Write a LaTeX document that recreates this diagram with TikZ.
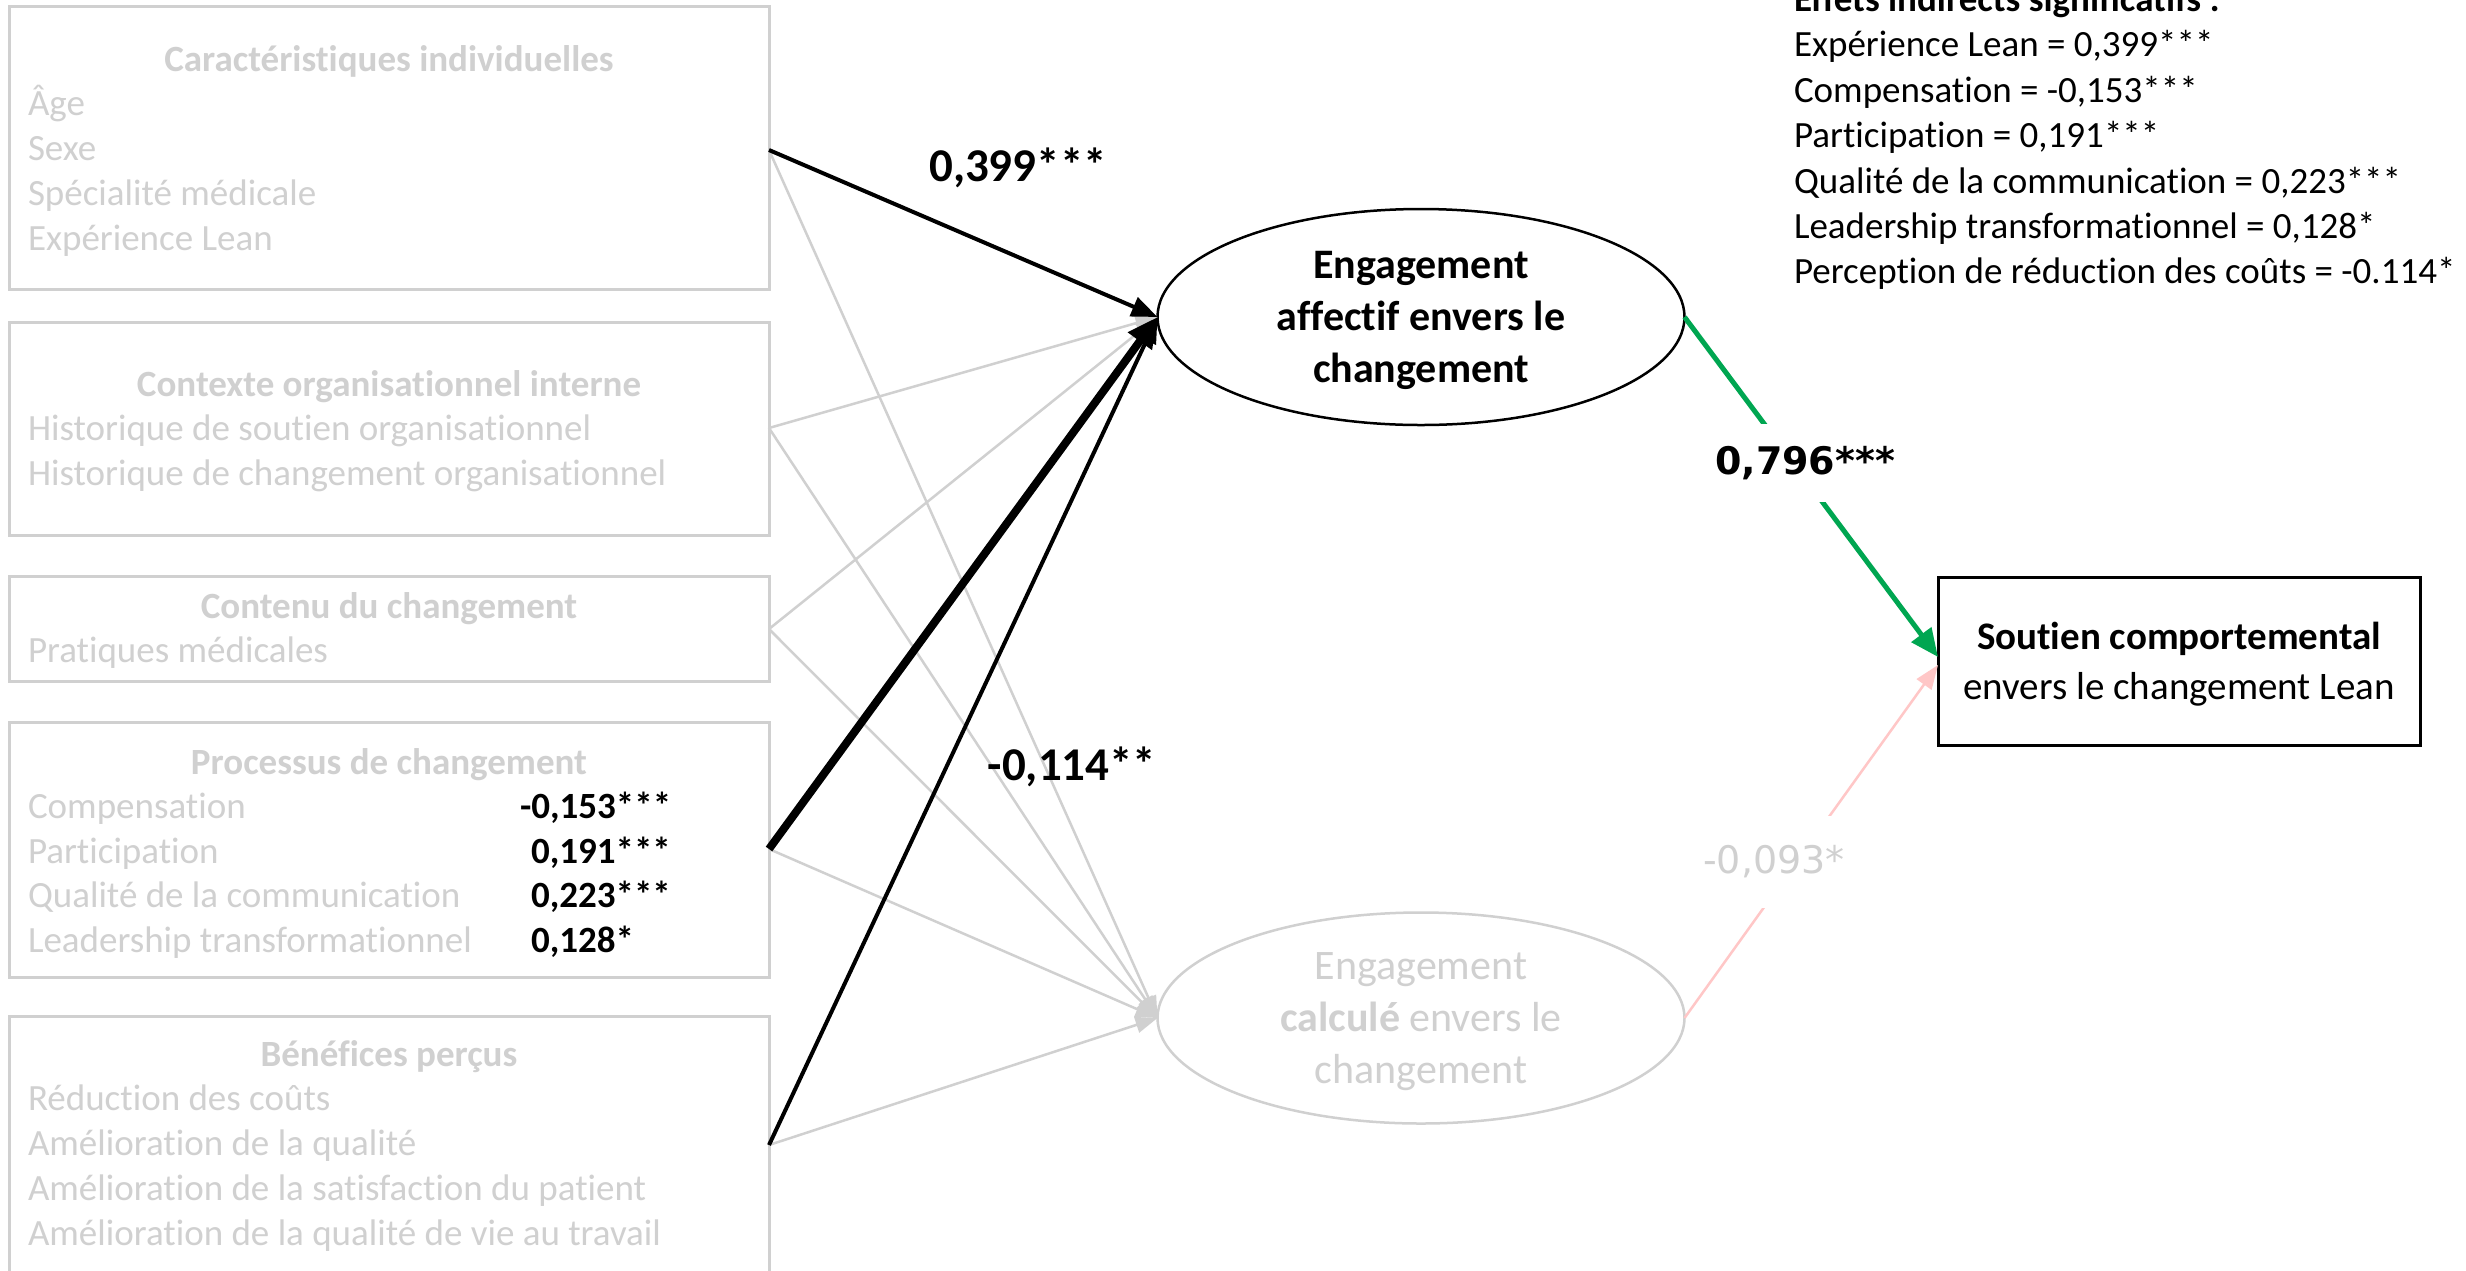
\documentclass[tikz,border=0pt]{standalone}
\usepackage{fontspec}
\setmainfont{Carlito}[Ligatures=NoCommon]
\newfontfamily\verdfont{DejaVu Sans}
\usetikzlibrary{arrows.meta,shapes.geometric}
\definecolor{lgrey}{RGB}{208,208,208}
\definecolor{pathgreen}{RGB}{0,166,81}
\definecolor{pinkline}{RGB}{255,199,199}

\begin{document}
\begin{tikzpicture}[x=1pt,y=-1pt,
  every node/.style={inner sep=0pt, outer sep=0pt},
  grp/.style={draw=lgrey, line width=3pt, anchor=north west, minimum width=760pt},
  ttl/.style={text=lgrey, font=\fontsize{37}{44.8}\selectfont\bfseries, anchor=base},
  itm/.style={text=lgrey, font=\fontsize{37}{44.8}\selectfont, anchor=base west},
  coef/.style={font=\fontsize{37}{44.8}\selectfont\bfseries, anchor=base west},
  lst/.style={font=\fontsize{37}{44.8}\selectfont, anchor=base west},
  garr/.style={draw=lgrey, line width=2.5pt, -{Triangle[length=22pt,width=16pt]}},
  barr/.style={draw=black, line width=4pt, -{Triangle[length=26pt,width=20pt]}},
  bigarr/.style={draw=black, line width=8pt, -{Triangle[length=30pt,width=28pt]}},
  elab/.style={font=\fontsize{47}{56}\selectfont\bfseries},
]
\useasboundingbox (0,0) rectangle (2466,1270);
\fill[white] (0,0) rectangle (2466,1270);
\clip (0,0) rectangle (2466,1270);

% ---- predictor groups ----
\node[grp, minimum height=283pt] (b1) at (9,6) {};
\node[ttl] (b1t) at (389,71) {Caractéristiques individuelles};
\foreach \t [count=\i] in {Âge, Sexe, Spécialité médicale, Expérience Lean}
  \node[itm] (b1i\i) at (28,{71+44.8*\i}) {\t};

\node[grp, minimum height=213pt] (b2) at (9,322) {};
\node[ttl] (b2t) at (389,396) {Contexte organisationnel interne};
\foreach \t [count=\i] in {Historique de soutien organisationnel, Historique de changement organisationnel}
  \node[itm] (b2i\i) at (28,{396+44.5*\i}) {\t};

\node[grp, minimum height=105pt] (b3) at (9,576) {};
\node[ttl] (b3t) at (389,618) {Contenu du changement};
\node[itm] (b3i1) at (28,662) {Pratiques médicales};

\node[grp, minimum height=255pt] (b4) at (9,722) {};
\node[ttl] (b4t) at (389,774) {Processus de changement};
\foreach \t [count=\i] in {Compensation, Participation, Qualité de la communication, Leadership transformationnel}
  \node[itm] (b4i\i) at (28,{774+44.5*\i}) {\t};
\node[coef] (c1) at (520,818.5) {-0,153***};
\node[coef] (c2) at (531,863) {0,191***};
\node[coef] (c3) at (531,907.5) {0,223***};
\node[coef] (c4) at (531,952) {0,128*};

\node[grp, minimum height=300pt] (b5) at (9,1016) {};
\node[ttl] (b5t) at (389,1066) {Bénéfices perçus};
\foreach \t [count=\i] in {Réduction des coûts, Amélioration de la qualité, Amélioration de la satisfaction du patient, Amélioration de la qualité de vie au travail}
  \node[itm] (b5i\i) at (28,{1066+44.8*\i}) {\t};

% ---- mediators and outcome ----
\node[ellipse, draw=black, line width=2.5pt, minimum width=527pt, minimum height=216pt,
  align=center, text depth=0pt, font=\fontsize{42}{52}\selectfont\bfseries] (e1) at (1421,317)
  {Engagement\\affectif envers le\\changement};
\node[ellipse, draw=lgrey, text=lgrey, line width=2.5pt, minimum width=527pt, minimum height=211pt,
  align=center, text depth=0pt, font=\fontsize{42}{52}\selectfont] (e2) at (1421,1018)
  {Engagement\\\textbf{calculé} envers le\\changement};
\node[draw=black, line width=3pt, minimum width=482pt, minimum height=168pt,
  align=center, text depth=0pt, font=\fontsize{39}{50}\selectfont] (t) at (2179,661)
  {\textbf{Soutien comportemental}\\envers le changement Lean};

% ---- indirect effects ----
\node[lst, font=\fontsize{37}{44.8}\selectfont\bfseries] (ie0) at (1794,11.5) {Effets indirects significatifs :};
\foreach \t [count=\i] in {Expérience Lean = 0{,}399***, Compensation = -0{,}153***, Participation = 0{,}191***,
  Qualité de la communication = 0{,}223***, Leadership transformationnel = 0{,}128*,
  Perception de réduction des coûts = -0.114*}
  \node[lst] (ie\i) at (1794,{11.5+45.4*\i}) {\t};

% ---- paths ----
\coordinate (o1) at (769,150);
\coordinate (o2) at (769,428);
\coordinate (o3) at (769,629);
\coordinate (o4) at (769,849);
\coordinate (o5) at (769,1145);
\coordinate (tg) at (t.west |- 0,657);
\coordinate (tp) at (t.west |- 0,665);

\foreach \i in {2,3} \draw[garr] (o\i) -- (e1.west);
\foreach \i in {1,...,5} \draw[garr] (o\i) -- (e2.west);
\draw[barr] (o1) -- (e1.west);
\draw[bigarr] (o4) -- (e1.west);
\draw[barr] (o5) -- (e1.west);

\node[elab] (l1) at (1018,168) {0,399***};
\node[elab] (l2) at (1072,767) {-0,114**};

\draw[line width=5pt, pathgreen, -{Triangle[length=28pt,width=24pt]}] (e1.east) -- (tg);
\draw[line width=2.5pt, pinkline, -{Triangle[length=24pt,width=18pt]}] (e2.east) -- (tp);

\node[fill=white, inner xsep=8pt, inner ysep=22pt, font={\verdfont\fontsize{38}{46}\selectfont\bfseries}] (l3) at (1805,463) {0,796***};
\node[fill=white, text=lgrey, inner xsep=6pt, inner ysep=30pt, font={\verdfont\fontsize{38}{46}\selectfont}] (l4) at (1774,862) {-0,093*};
\end{tikzpicture}
\end{document}
